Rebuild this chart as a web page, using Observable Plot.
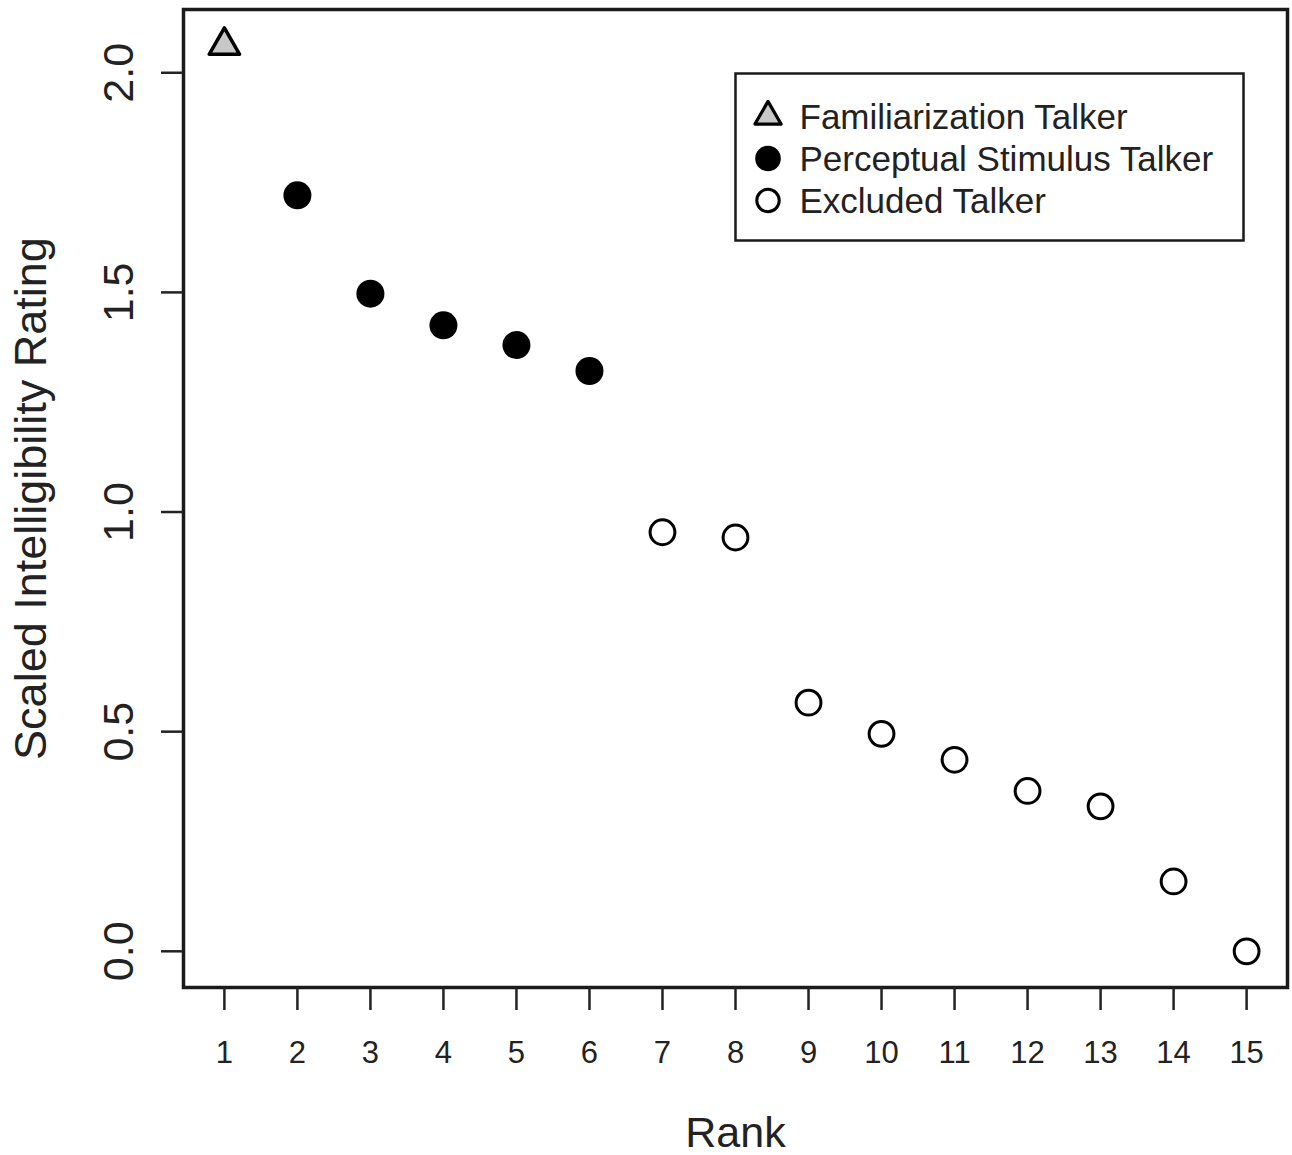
<!DOCTYPE html>
<html>
<head>
<meta charset="utf-8">
<script src="https://cdn.jsdelivr.net/npm/d3@7"></script>
<script src="https://cdn.jsdelivr.net/npm/@observablehq/plot@0.6"></script>
<style>
  html, body { margin: 0; padding: 0; background: #fff; }
  #chart svg { display: block; }
</style>
</head>
<body>
<div id="chart"></div>
<script>
// ---- data ----
const ranks = [1, 2, 3, 4, 5, 6, 7, 8, 9, 10, 11, 12, 13, 14, 15];
const ratings = [2.062, 1.721, 1.497, 1.425, 1.380, 1.321, 0.954, 0.942, 0.566, 0.495, 0.436, 0.365, 0.330, 0.159, 0.000];
const talkerGroup = ["Familiarization Talker", "Perceptual Stimulus Talker", "Perceptual Stimulus Talker",
  "Perceptual Stimulus Talker", "Perceptual Stimulus Talker", "Perceptual Stimulus Talker",
  "Excluded Talker", "Excluded Talker", "Excluded Talker", "Excluded Talker", "Excluded Talker",
  "Excluded Talker", "Excluded Talker", "Excluded Talker", "Excluded Talker"];
const legendLabels = ["Familiarization Talker", "Perceptual Stimulus Talker", "Excluded Talker"];
const xTicks = [1, 2, 3, 4, 5, 6, 7, 8, 9, 10, 11, 12, 13, 14, 15];
const yTicks = [0, 0.5, 1, 1.5, 2];
const xLabel = "Rank";
const yLabel = "Scaled Intelligibility Rating";

const rows = ranks.map((r, i) => ({rank: r, rating: ratings[i], group: talkerGroup[i]}));

const ink = "#1a1a1a";
const styleOf = {
  "Familiarization Talker": {symbol: "triangle", r: 11.3, fill: "#c8c8c8", stroke: "#000", strokeWidth: 3.5},
  "Perceptual Stimulus Talker": {symbol: "circle", r: 14, fill: "#000", stroke: "none", strokeWidth: 0},
  "Excluded Talker": {symbol: "circle", r: 12.4, fill: "#fff", stroke: "#000", strokeWidth: 3}
};
const legendStyleOf = {
  "Familiarization Talker": {symbol: "triangle", r: 9.7, fill: "#c8c8c8", stroke: "#000", strokeWidth: 3.2},
  "Perceptual Stimulus Talker": {symbol: "circle", r: 12.8, fill: "#000", stroke: "none", strokeWidth: 0},
  "Excluded Talker": {symbol: "circle", r: 11.2, fill: "#fff", stroke: "#000", strokeWidth: 3}
};

const marks = [
  Plot.frame({stroke: ink, strokeWidth: 3.5}),
  // axes
  Plot.axisX(xTicks, {tickSize: 23, tickPadding: 30, fontSize: 31, strokeWidth: 2.5, color: "#222", label: null}),
  Plot.axisY(yTicks, {tickSize: 22, tickFormat: () => "", strokeWidth: 2.5, color: "#222", label: null}),
  Plot.text(yTicks, {y: d => d, text: d => d3.format(".1f")(d), frameAnchor: "left", dx: -64, rotate: -90,
    textAnchor: "middle", lineAnchor: "middle", fontSize: 43, fill: "#222"}),
  Plot.text([xLabel], {frameAnchor: "bottom", dy: 146, textAnchor: "middle", lineAnchor: "middle",
    fontSize: 43, fill: "#222"}),
  Plot.text([yLabel], {frameAnchor: "left", dx: -152, rotate: -90, textAnchor: "middle", lineAnchor: "middle",
    fontSize: 45, fill: "#222"}),
];

// data points, one mark per group
for (const g of legendLabels) {
  const s = styleOf[g];
  marks.push(Plot.dot(rows.filter(d => d.group === g), {
    x: "rank", y: "rating", symbol: () => s.symbol, r: s.r, fill: s.fill, stroke: s.stroke,
    strokeWidth: s.strokeWidth, strokeLinejoin: "round"
  }));
}

// legend box inside the plot
marks.push(Plot.frame({stroke: ink, strokeWidth: 2.5, insetLeft: 552, insetTop: 64, insetRight: 44, insetBottom: 747}));
legendLabels.forEach((g, i) => {
  const s = legendStyleOf[g];
  const rowDy = 107 + 42 * i;
  marks.push(Plot.dot([g], {frameAnchor: "top-left", dx: 584.5, dy: rowDy, symbol: () => s.symbol, r: s.r,
    fill: s.fill, stroke: s.stroke, strokeWidth: s.strokeWidth, strokeLinejoin: "round"}));
  marks.push(Plot.text([g], {frameAnchor: "top-left", dx: 616, dy: rowDy + 1, text: d => d,
    textAnchor: "start", lineAnchor: "middle", fontSize: 35, fill: "#222"}));
});

const chart = Plot.plot({
  width: 1292,
  height: 1155,
  marginLeft: 183,
  marginRight: 5,
  marginTop: 9,
  marginBottom: 168,
  x: {type: "linear", domain: [0.44, 15.56], axis: null},
  y: {type: "linear", domain: [-0.0824, 2.144], axis: null},
  symbol: {type: "identity"},
  style: {fontFamily: "'Liberation Sans', Arial, Helvetica, sans-serif", background: "#fff", color: "#222"},
  marks
});
document.getElementById("chart").appendChild(chart);
</script>
</body>
</html>
